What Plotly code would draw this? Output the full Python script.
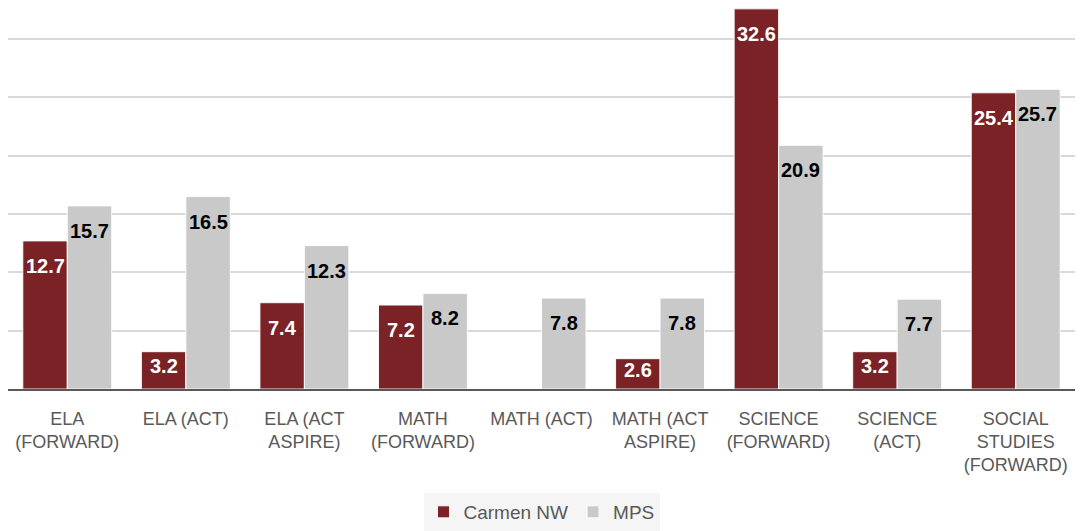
import plotly.graph_objects as go

categories = ["ELA<br>(FORWARD)", "ELA (ACT)", "ELA (ACT<br>ASPIRE)", "MATH<br>(FORWARD)",
              "MATH (ACT)", "MATH (ACT<br>ASPIRE)", "SCIENCE<br>(FORWARD)", "SCIENCE<br>(ACT)",
              "SOCIAL<br>STUDIES<br>(FORWARD)"]
carmen_nw = [12.7, 3.2, 7.4, 7.2, None, 2.6, 32.6, 3.2, 25.4]
mps = [15.7, 16.5, 12.3, 8.2, 7.8, 7.8, 20.9, 7.7, 25.7]

RED = "#7a2226"
GRAY = "#c9c9c9"
FONT = "Liberation Sans"
YMAX = 33.36
PLOT_H = 389

fig = go.Figure()
fig.add_trace(go.Bar(name="Carmen NW", x=categories, y=carmen_nw, marker_color=RED,
                     marker_line=dict(color="rgba(255,255,255,0.9)", width=1)))
fig.add_trace(go.Bar(name="MPS", x=categories, y=mps, marker_color=GRAY,
                     marker_line=dict(color="rgba(255,255,255,0.9)", width=1)))

px_per_unit = PLOT_H / YMAX
annotations = []
for series, xs, color in [(carmen_nw, -22.2, "white"), (mps, 22.2, "black")]:
    for cat, v in zip(categories, series):
        if v is None:
            continue
        h = v * px_per_unit
        shift = min(25, h * 0.35 + 1)
        annotations.append(dict(x=cat, y=v, xref="x", yref="y", text=f"{v:.1f}",
                                showarrow=False, xshift=xs, yshift=-shift,
                                yanchor="middle", xanchor="center",
                                font=dict(family=FONT, size=20, color=color, weight="bold")))

fig.update_layout(
    width=1081, height=531,
    margin=dict(l=8, r=6, t=0, b=531 - PLOT_H),
    paper_bgcolor="white", plot_bgcolor="white",
    barmode="group", bargap=0.25, bargroupgap=0.0,
    font=dict(family=FONT, size=18, color="#595959"),
    annotations=annotations,
    legend=dict(orientation="h", x=0.5, xanchor="center", y=0, yanchor="bottom",
                yref="container", bgcolor="#f5f5f5",
                font=dict(family=FONT, size=19, color="#595959"),
                traceorder="normal"),
    xaxis=dict(showline=True, linecolor="#595959", linewidth=2, ticks="",
               tickfont=dict(family=FONT, size=18, color="#595959"),
               ticklabelstandoff=12, showgrid=False),
    yaxis=dict(range=[0, YMAX], dtick=5, showgrid=True, gridcolor="#d9d9d9", gridwidth=2,
               showticklabels=False, zeroline=False),
)

fig.write_html("out.html", config={"displayModeBar": False},
               post_script="document.body.style.margin='0';")
